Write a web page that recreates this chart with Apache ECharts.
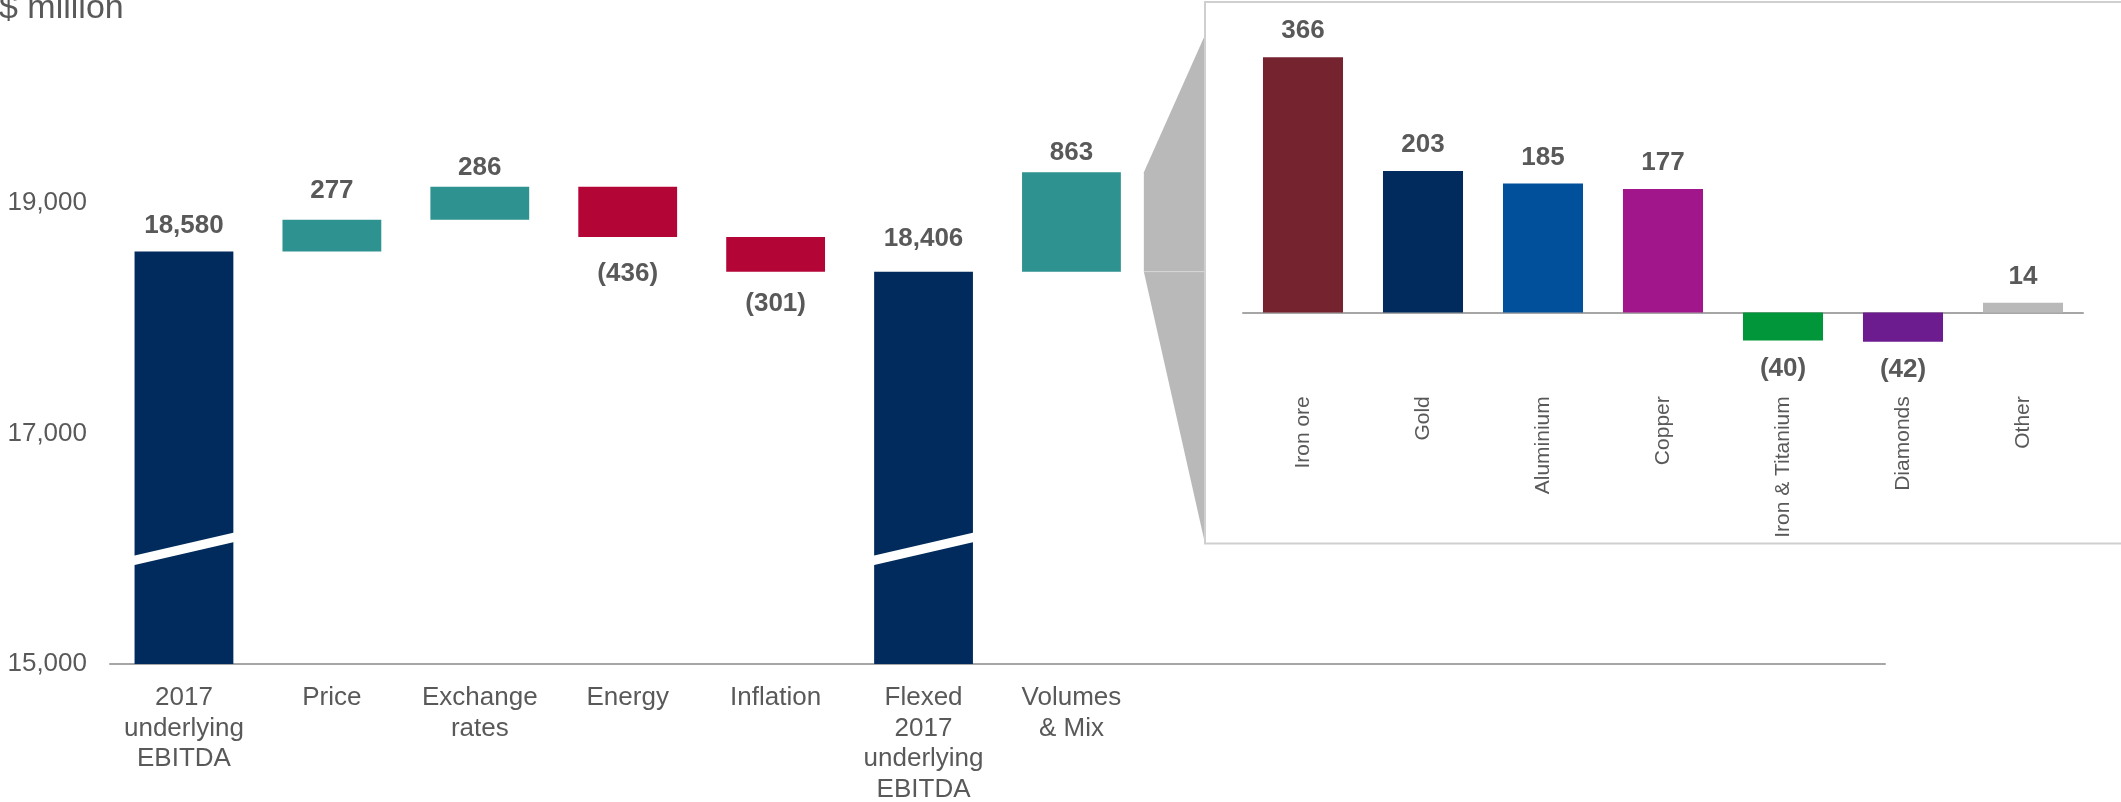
<!DOCTYPE html>
<html>
<head>
<meta charset="utf-8">
<title>Underlying EBITDA bridge</title>
<script src="https://cdn.jsdelivr.net/npm/echarts@6.0.0/dist/echarts.min.js"></script>
<style>
  html, body { margin: 0; padding: 0; background: #fff; }
  #chart { width: 2121px; height: 802px; }
</style>
</head>
<body>
<div id="chart"></div>
<script>
// bridge from 2017 EBITDA ($ million)
const bridgeCategories = ['2017\nunderlying\nEBITDA', 'Price', 'Exchange\nrates', 'Energy', 'Inflation',
  'Flexed\n2017\nunderlying\nEBITDA', 'Volumes\n& Mix'];
const bridgeValues = [18580, 277, 286, -436, -301, 18406, 863];
const bridgeIsTotal = [true, false, false, false, false, true, false];
const yAxisMin = 15000;
const yAxisStep = 2000;

// breakdown of volumes & mix
const mixCategories = ['Iron ore', 'Gold', 'Aluminium', 'Copper', 'Iron & Titanium', 'Diamonds', 'Other'];
const mixValues = [366, 203, 185, 177, -40, -42, 14];

// styles / layout
const NAVY = '#022b5d';
const TEAL = '#2e9290';
const RED = '#b40537';
const TEXT = '#595959';
const AXIS = '#a6a6a6';
const FONT = '"Liberation Sans", Arial, sans-serif';
const mixColors = ['#75232f', '#022b5d', '#00509b', '#a1168a', '#009639', '#6d1c8f', '#b9b9b9'];
const bridgeLabelGaps = [13, 16, 6, 24, 19.5, 19.5, 6]; // labels sit by hand in the original
const BAR_RATIO = 0.668;
const SLOTS = 12; // main axis runs under the inset too
const BREAK_AT = 16000;
const BOX_X = 1205;
const BOX_BOTTOM = 543.5;

const fmt = (v, total) => {
  if (total) return v.toLocaleString('en-US');
  return v < 0 ? '(' + Math.abs(v) + ')' : String(v);
};

// waterfall build
const lows = [];
const highs = [];
let running = 0;
const baseData = [];
const barData = [];
bridgeValues.forEach((v, i) => {
  let low, high, color;
  if (bridgeIsTotal[i]) {
    low = yAxisMin; high = v; running = v; color = NAVY;
  } else {
    low = Math.min(running, running + v);
    high = Math.max(running, running + v);
    running += v;
    color = v >= 0 ? TEAL : RED;
  }
  lows.push(low);
  highs.push(high);
  baseData.push(low);
  barData.push({
    value: high - low,
    itemStyle: { color: color },
    label: { position: (!bridgeIsTotal[i] && v < 0) ? 'bottom' : 'top', distance: bridgeLabelGaps[i] }
  });
});

const xCats = bridgeCategories.slice();
while (xCats.length < SLOTS) xCats.push('');

const breakData = [];
bridgeIsTotal.forEach((t, i) => { if (t) breakData.push([i, BREAK_AT]); });

const chart = echarts.init(document.getElementById('chart'));
const option = {
  animation: false,
  textStyle: { fontFamily: FONT },
  grid: [
    { left: 110, right: 2121 - 1885, top: 88, bottom: 138, outerBoundsMode: 'none' },
    { left: 1243, right: 38, top: 33.5, bottom: 802 - 382.25, outerBoundsMode: 'none' }
  ],
  xAxis: [
    {
      type: 'category', gridIndex: 0, data: xCats,
      axisLine: { lineStyle: { color: AXIS, width: 2 } },
      axisTick: { show: false },
      axisLabel: { interval: 0, color: TEXT, fontSize: 26, lineHeight: 30.5, margin: 19, fontFamily: FONT }
    },
    {
      type: 'category', gridIndex: 1, data: mixCategories,
      axisLine: { onZero: true, lineStyle: { color: AXIS, width: 2 } },
      axisTick: { show: false },
      // labels are measured from the grid bottom, not from the zero line
      axisLabel: { interval: 0, rotate: 90, color: TEXT, fontSize: 21, margin: 14, fontFamily: FONT }
    }
  ],
  yAxis: [
    {
      type: 'value', gridIndex: 0, min: yAxisMin, max: 20000, interval: yAxisStep,
      axisLine: { show: false }, axisTick: { show: false }, splitLine: { show: false },
      axisLabel: {
        color: TEXT, fontSize: 26, margin: 23, fontFamily: FONT,
        formatter: v => ((v - yAxisMin) % yAxisStep === 0 ? v.toLocaleString('en-US') : '')
      }
    },
    { type: 'value', gridIndex: 1, min: -100, max: 400, show: false, splitLine: { show: false } }
  ],
  series: [
    {
      type: 'bar', xAxisIndex: 0, yAxisIndex: 0, stack: 'bridge', barWidth: (BAR_RATIO * 100) + '%',
      data: baseData, itemStyle: { color: 'transparent' }, silent: true
    },
    {
      type: 'bar', xAxisIndex: 0, yAxisIndex: 0, stack: 'bridge', barWidth: (BAR_RATIO * 100) + '%',
      data: barData,
      label: {
        show: true, color: TEXT, fontSize: 26, fontWeight: 'bold', fontFamily: FONT,
        formatter: p => fmt(bridgeValues[p.dataIndex], bridgeIsTotal[p.dataIndex])
      }
    },
    {
      // white slash marking the truncated totals
      type: 'custom', xAxisIndex: 0, yAxisIndex: 0, z: 5, silent: true,
      data: breakData,
      renderItem: (params, api) => {
        const c = api.coord([api.value(0), api.value(1)]);
        const w = api.size([1, 0])[0] * BAR_RATIO + 2;
        const rise = w * 0.23 / 2;
        const t = 4.75;
        return {
          type: 'polygon',
          shape: { points: [
            [c[0] - w / 2, c[1] + rise - t], [c[0] + w / 2, c[1] - rise - t],
            [c[0] + w / 2, c[1] - rise + t], [c[0] - w / 2, c[1] + rise + t]
          ] },
          style: { fill: '#fff' }
        };
      }
    },
    {
      type: 'bar', xAxisIndex: 1, yAxisIndex: 1, barWidth: '66.7%',
      data: mixValues.map((v, i) => ({
        value: v,
        itemStyle: { color: mixColors[i] },
        label: { position: v < 0 ? 'bottom' : 'top', distance: v < 0 ? 15.5 : 13 }
      })),
      label: {
        show: true, color: TEXT, fontSize: 26, fontWeight: 'bold', fontFamily: FONT,
        formatter: p => fmt(p.value, false)
      }
    }
  ]
};
chart.setOption(option);

// zoom connector from the Volumes & Mix bar to the inset
const vi = bridgeCategories.length - 1;
const pTop = chart.convertToPixel({ xAxisIndex: 0, yAxisIndex: 0 }, [vi, highs[vi]]);
const pBot = chart.convertToPixel({ xAxisIndex: 0, yAxisIndex: 0 }, [vi, lows[vi]]);
const band = chart.convertToPixel({ xAxisIndex: 0 }, 1) - chart.convertToPixel({ xAxisIndex: 0 }, 0);
const x0 = pTop[0] + band * BAR_RATIO / 2 + 23;

chart.setOption({
  graphic: [
    {
      type: 'polygon', z: 0,
      shape: { points: [[x0, pTop[1]], [BOX_X, 35], [BOX_X, pBot[1]], [x0, pBot[1]]] },
      style: { fill: '#b9b9b9' }
    },
    {
      type: 'polygon', z: 0,
      shape: { points: [[x0, pBot[1]], [BOX_X, pBot[1]], [BOX_X, BOX_BOTTOM]] },
      style: { fill: '#b9b9b9' }
    },
    {
      type: 'line', z: 0,
      shape: { x1: x0, y1: pBot[1], x2: BOX_X, y2: pBot[1] },
      style: { stroke: '#d6d6d6', lineWidth: 1 }
    },
    {
      type: 'rect', z: 0,
      shape: { x: BOX_X, y: 2, width: 1000, height: BOX_BOTTOM - 2 },
      style: { fill: '#fff', stroke: '#cfcfcf', lineWidth: 2 }
    },
    {
      type: 'text', left: -1, top: -8, z: 0,
      style: { text: '$ million', fill: TEXT, font: '34px ' + FONT }
    }
  ]
});
</script>
</body>
</html>
